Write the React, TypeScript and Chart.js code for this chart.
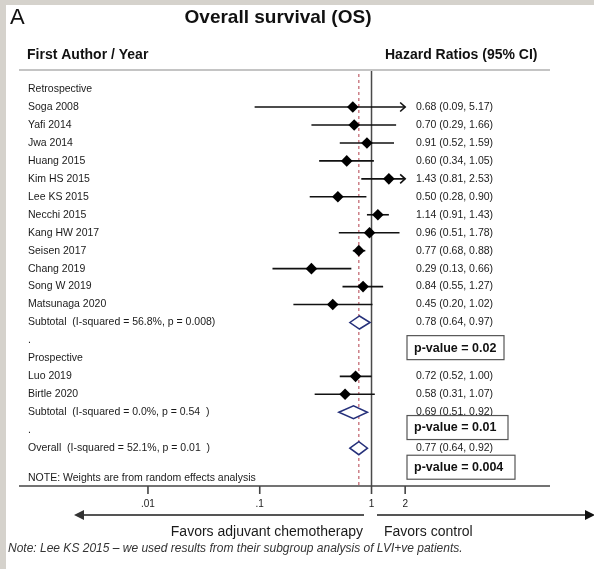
import React, { useEffect, useRef } from "react";
import { Chart, registerables } from "chart.js";

Chart.register(...registerables);

// ---- data ----
const groupLabels = ["Retrospective", ".", "Prospective", "."];
const groupRows = [0, 14, 15, 19];

const studyLabels = [
  "Soga 2008", "Yafi 2014", "Jwa 2014", "Huang 2015", "Kim HS 2015", "Lee KS 2015",
  "Necchi 2015", "Kang HW 2017", "Seisen 2017", "Chang 2019", "Song W 2019",
  "Matsunaga 2020", "Luo 2019", "Birtle 2020",
];
const studyRows = [1, 2, 3, 4, 5, 6, 7, 8, 9, 10, 11, 12, 16, 17];
const studyHR = [0.68, 0.70, 0.91, 0.60, 1.43, 0.50, 1.14, 0.96, 0.77, 0.29, 0.84, 0.45, 0.72, 0.58];
const studyLower = [0.09, 0.29, 0.52, 0.34, 0.81, 0.28, 0.91, 0.51, 0.68, 0.13, 0.55, 0.20, 0.52, 0.31];
const studyUpper = [5.17, 1.66, 1.59, 1.05, 2.53, 0.90, 1.43, 1.78, 0.88, 0.66, 1.27, 1.02, 1.00, 1.07];
const studyCIText = [
  "0.68 (0.09, 5.17)", "0.70 (0.29, 1.66)", "0.91 (0.52, 1.59)", "0.60 (0.34, 1.05)",
  "1.43 (0.81, 2.53)", "0.50 (0.28, 0.90)", "1.14 (0.91, 1.43)", "0.96 (0.51, 1.78)",
  "0.77 (0.68, 0.88)", "0.29 (0.13, 0.66)", "0.84 (0.55, 1.27)", "0.45 (0.20, 1.02)",
  "0.72 (0.52, 1.00)", "0.58 (0.31, 1.07)",
];

const pooledLabels = [
  "Subtotal  (I-squared = 56.8%, p = 0.008)",
  "Subtotal  (I-squared = 0.0%, p = 0.54  )",
  "Overall  (I-squared = 52.1%, p = 0.01  )",
];
const pooledRows = [13, 18, 20];
const pooledHR = [0.78, 0.69, 0.77];
const pooledLower = [0.64, 0.51, 0.64];
const pooledUpper = [0.97, 0.92, 0.92];
const pooledCIText = ["0.78 (0.64, 0.97)", "0.69 (0.51, 0.92)", "0.77 (0.64, 0.92)"];

const pValueLabels = ["p-value = 0.02", "p-value = 0.01", "p-value = 0.004"];
const pValueRows = [14.4, 18.85, 21.06];

const tickValues = [0.01, 0.1, 1, 2];
const tickLabels = [".01", ".1", "1", "2"];
const overallEstimate = 0.77;
const clipMax = 2;

const titleText = "Overall survival (OS)";
const panelLetter = "A";
const leftHeader = "First Author / Year";
const rightHeader = "Hazard Ratios (95% CI)";
const noteWeights = "NOTE: Weights are from random effects analysis";
const favorsLeft = "Favors adjuvant chemotherapy";
const favorsRight = "Favors control";
const footNote = "Note: Lee KS 2015 \u2013 we used results from their subgroup analysis of LVI+ve patients.";

// ---- layout constants ----
const W = 594;
const H = 569;
const X_ONE = 373;
const DECADE = 114;
const ROW0 = 85;
const ROW_STEP = 18.33;
const FONT = "'Liberation Sans', Arial, Helvetica, sans-serif";

const forestPlugin = {
  id: "forest",
  beforeDraw(chart: any) {
    const ctx = chart.ctx;
    ctx.save();
    ctx.fillStyle = "#d5d2cc";
    ctx.fillRect(0, 0, W, H);
    ctx.fillStyle = "#ffffff";
    ctx.fillRect(6, 5, W - 6, H - 5);
    ctx.restore();
  },
  beforeDatasetsDraw(chart: any) {
    const ctx = chart.ctx;
    const xs = chart.scales.x;
    const ys = chart.scales.y;
    ctx.save();
    // header rule
    ctx.strokeStyle = "#c4c4c4";
    ctx.lineWidth = 2;
    ctx.beginPath();
    ctx.moveTo(19, 70);
    ctx.lineTo(550, 70);
    ctx.stroke();

    // null line
    const x1 = xs.getPixelForValue(1);
    ctx.strokeStyle = "#4a4a4a";
    ctx.lineWidth = 1.5;
    ctx.beginPath();
    ctx.moveTo(x1, 71);
    ctx.lineTo(x1, 486);
    ctx.stroke();

    // overall dashed line
    const xo = xs.getPixelForValue(overallEstimate);
    ctx.strokeStyle = "#c0606a";
    ctx.lineWidth = 1.2;
    ctx.setLineDash([3, 3]);
    ctx.beginPath();
    ctx.moveTo(xo, 74);
    ctx.lineTo(xo, 486);
    ctx.stroke();
    ctx.setLineDash([]);

    // CI lines
    const xClip = xs.getPixelForValue(clipMax);
    ctx.strokeStyle = "#111";
    ctx.lineWidth = 1.6;
    studyRows.forEach((r, i) => {
      const y = ys.getPixelForValue(r);
      const xl = xs.getPixelForValue(studyLower[i]);
      const clipped = studyUpper[i] > clipMax;
      const xu = clipped ? xClip : xs.getPixelForValue(studyUpper[i]);
      ctx.beginPath();
      ctx.moveTo(xl, y);
      ctx.lineTo(xu, y);
      ctx.stroke();
      if (clipped) {
        ctx.beginPath();
        ctx.moveTo(xu - 5, y - 4.5);
        ctx.lineTo(xu, y);
        ctx.lineTo(xu - 5, y + 4.5);
        ctx.stroke();
      }
    });
    ctx.restore();
  },
  afterDatasetsDraw(chart: any) {
    const ctx = chart.ctx;
    const xs = chart.scales.x;
    const ys = chart.scales.y;
    ctx.save();

    // pooled diamonds
    ctx.strokeStyle = "#25307a";
    ctx.lineWidth = 1.5;
    ctx.fillStyle = "#ffffff";
    pooledRows.forEach((r, i) => {
      const y = ys.getPixelForValue(r);
      const xl = xs.getPixelForValue(pooledLower[i]);
      const xu = xs.getPixelForValue(pooledUpper[i]);
      const xm = xs.getPixelForValue(pooledHR[i]);
      ctx.beginPath();
      ctx.moveTo(xl, y);
      ctx.lineTo(xm, y - 6.5);
      ctx.lineTo(xu, y);
      ctx.lineTo(xm, y + 6.5);
      ctx.closePath();
      ctx.fill();
      ctx.stroke();
    });

    // texts
    ctx.textBaseline = "middle";
    ctx.fillStyle = "#111";
    ctx.textAlign = "left";
    ctx.font = `22px ${FONT}`;
    ctx.fillText(panelLetter, 10, 18);
    ctx.font = `bold 19px ${FONT}`;
    ctx.textAlign = "center";
    ctx.fillText(titleText, 278, 18);
    ctx.textAlign = "left";
    ctx.font = `bold 14px ${FONT}`;
    ctx.fillText(leftHeader, 27, 55);
    ctx.fillText(rightHeader, 385, 55);

    ctx.font = `10.5px ${FONT}`;
    ctx.fillStyle = "#1a1a1a";
    groupRows.forEach((r, i) => ctx.fillText(groupLabels[i], 28, ys.getPixelForValue(r)));
    studyRows.forEach((r, i) => {
      const y = ys.getPixelForValue(r);
      ctx.fillText(studyLabels[i], 28, y);
      ctx.fillText(studyCIText[i], 416, y);
    });
    pooledRows.forEach((r, i) => {
      const y = ys.getPixelForValue(r);
      ctx.fillText(pooledLabels[i], 28, y);
      ctx.fillText(pooledCIText[i], 416, y);
    });
    ctx.fillText(noteWeights, 28, 478);

    // p-value boxes
    const boxW = [97, 101, 108];
    ctx.font = `bold 12.5px ${FONT}`;
    pValueLabels.forEach((t, i) => {
      const y = ys.getPixelForValue(pValueRows[i]);
      ctx.fillStyle = "#ffffff";
      ctx.fillRect(407, y - 12, boxW[i], 24);
      ctx.strokeStyle = "#555";
      ctx.lineWidth = 1.2;
      ctx.strokeRect(407, y - 12, boxW[i], 24);
      ctx.fillStyle = "#111";
      ctx.fillText(t, 414, y + 0.5);
    });

    // x axis
    ctx.strokeStyle = "#444";
    ctx.lineWidth = 1.6;
    ctx.beginPath();
    ctx.moveTo(19, 486);
    ctx.lineTo(550, 486);
    ctx.stroke();
    ctx.font = `10px ${FONT}`;
    ctx.textAlign = "center";
    ctx.fillStyle = "#222";
    tickValues.forEach((v, i) => {
      const x = xs.getPixelForValue(v);
      ctx.beginPath();
      ctx.moveTo(x, 486);
      ctx.lineTo(x, 494);
      ctx.stroke();
      ctx.fillText(tickLabels[i], x, 504);
    });

    // favors arrows
    ctx.strokeStyle = "#555";
    ctx.fillStyle = "#333";
    ctx.lineWidth = 2;
    ctx.beginPath();
    ctx.moveTo(364, 515);
    ctx.lineTo(82, 515);
    ctx.stroke();
    ctx.beginPath();
    ctx.moveTo(74, 515);
    ctx.lineTo(84, 510);
    ctx.lineTo(84, 520);
    ctx.closePath();
    ctx.fill();
    ctx.beginPath();
    ctx.moveTo(377, 515);
    ctx.lineTo(587, 515);
    ctx.stroke();
    ctx.fillStyle = "#111";
    ctx.beginPath();
    ctx.moveTo(595, 515);
    ctx.lineTo(585, 510);
    ctx.lineTo(585, 520);
    ctx.closePath();
    ctx.fill();

    ctx.font = `14px ${FONT}`;
    ctx.fillStyle = "#1a1a1a";
    ctx.textAlign = "right";
    ctx.fillText(favorsLeft, 363, 532);
    ctx.textAlign = "left";
    ctx.fillText(favorsRight, 384, 532);

    ctx.font = `italic 12px ${FONT}`;
    ctx.fillStyle = "#333";
    ctx.fillText(footNote, 8, 549);

    ctx.restore();
  },
};

export default function App() {
  const ref = useRef<HTMLCanvasElement | null>(null);
  useEffect(() => {
    document.body.style.margin = "0";
    if (!ref.current) return;
    const chart = new Chart(ref.current, {
      type: "scatter",
      data: {
        datasets: [
          {
            label: "Studies",
            data: studyRows.map((r, i) => ({ x: studyHR[i], y: r })),
            pointStyle: "rectRot",
            pointRadius: 5.8,
            backgroundColor: "#000",
            borderColor: "#000",
            borderWidth: 0,
          },
        ],
      },
      options: {
        animation: false,
        responsive: false,
        devicePixelRatio: 1,
        layout: { padding: 0 },
        plugins: { legend: { display: false }, tooltip: { enabled: false } },
        scales: {
          x: {
            type: "logarithmic",
            display: false,
            min: Math.pow(10, -X_ONE / DECADE),
            max: Math.pow(10, (W - X_ONE) / DECADE),
          },
          y: {
            type: "linear",
            display: false,
            reverse: true,
            min: -ROW0 / ROW_STEP,
            max: (H - ROW0) / ROW_STEP,
          },
        },
      },
      plugins: [forestPlugin],
    });
    return () => chart.destroy();
  }, []);
  return (
    <div style={{ position: "absolute", left: 0, top: 0, width: W, height: H }}>
      <canvas ref={ref} width={W} height={H} style={{ display: "block", width: W, height: H }} />
    </div>
  );
}
